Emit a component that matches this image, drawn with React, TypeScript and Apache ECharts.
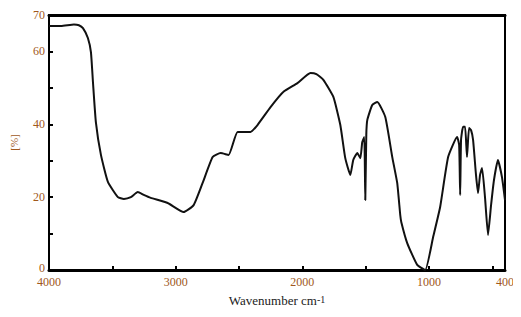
import React, { useEffect, useRef } from "react";
import * as echarts from "echarts";

const wavenumbers = [
  4000, 3905, 3803, 3764, 3732, 3693, 3669, 3653, 3630, 3590, 3535, 3456, 3409, 3354, 3299, 3252, 3197, 3063, 2937, 2858,
  2787, 2708, 2645, 2582, 2511, 2409, 2354, 2251, 2149, 2039, 1936, 1889, 1834, 1755, 1700, 1661, 1621, 1598, 1566, 1542,
  1527, 1511, 1503, 1495, 1487, 1448, 1408, 1345, 1290, 1251, 1227, 1219, 1172, 1093, 1030, 967, 912, 849, 778, 762,
  754, 747, 731, 715, 700, 684, 668, 652, 629, 613, 597, 581, 558, 534, 510, 487, 456, 424, 400,
];
const transmittance = [
  67.0, 67.0, 67.4, 67.2, 66.4, 63.7, 59.8, 51.6, 40.6, 31.6, 24.2, 20.0, 19.5, 20.0, 21.4, 20.6, 19.8, 18.4, 15.9, 17.8,
  23.9, 31.0, 32.1, 31.6, 37.9, 37.9, 39.8, 44.7, 48.9, 51.3, 54.1, 53.8, 52.2, 47.5, 39.8, 30.7, 26.1, 30.2, 32.1, 30.7,
  35.1, 36.5, 19.2, 37.1, 41.2, 45.3, 46.1, 42.0, 31.0, 23.9, 15.1, 13.2, 7.4, 1.4, 0.0, 9.1, 17.3, 31.0, 36.5, 34.3,
  20.6, 35.7, 39.3, 39.3, 31.0, 39.0, 38.4, 35.7, 26.1, 21.1, 26.1, 28.0, 20.0, 9.6, 17.8, 24.7, 30.2, 25.5, 19.2,
];
const xLabelValues = [4000, 3000, 2000, 1000, 400];
const xTickValues = [4000, 3500, 3000, 2500, 2000, 1500, 1000, 500, 400];
const yLabelValues = [0, 20, 40, 60, 70];
const yTickValues = [0, 10, 20, 30, 40, 50, 60, 70];

const labelColor = "#a0581c";
const font = "'Liberation Serif', 'DejaVu Serif', serif";

export default function App() {
  const ref = useRef<HTMLDivElement>(null);
  useEffect(() => {
    if (!ref.current) return;
    const chart = echarts.init(ref.current, null, { renderer: "svg" });
    chart.setOption({
      animation: false,
      backgroundColor: "#ffffff",
      grid: { left: 48, right: 16, top: 15, bottom: 47, show: true, borderColor: "#000", borderWidth: 2 },
      xAxis: [
        {
          type: "value",
          inverse: true,
          min: 400,
          max: 4000,
          interval: 100,
          name: "Wavenumber cm{sup|-1}",
          nameLocation: "middle",
          nameGap: 24,
          nameTextStyle: {
            color: "#222",
            fontFamily: font,
            fontSize: 13,
            verticalAlign: "top",
            rich: { sup: { fontSize: 10, verticalAlign: "top", fontFamily: font, color: "#222" } },
          },
          axisLine: { show: true, lineStyle: { color: "#000", width: 3 } },
          axisTick: { show: true, inside: true, length: 4, customValues: xTickValues, lineStyle: { color: "#000", width: 2 } },
          axisLabel: {
            customValues: xLabelValues,
            formatter: (v: number) => String(v),
            color: labelColor,
            fontFamily: font,
            fontSize: 12,
            lineHeight: 9,
            margin: 7,
          },
          splitLine: { show: false },
        },
        {
          type: "value",
          position: "top",
          inverse: true,
          min: 400,
          max: 4000,
          axisLine: { show: true, lineStyle: { color: "#000", width: 3 } },
          axisTick: { show: false },
          axisLabel: { show: false },
          splitLine: { show: false },
        },
      ],
      yAxis: {
        type: "value",
        min: 0,
        max: 70,
        interval: 10,
        name: "[%]",
        nameLocation: "middle",
        nameRotate: 90,
        nameGap: 30,
        nameTextStyle: { color: labelColor, fontFamily: font, fontSize: 11 },
        axisLine: { show: true, lineStyle: { color: "#000", width: 2 } },
        axisTick: { show: true, inside: true, length: 4, customValues: yTickValues, lineStyle: { color: "#000", width: 2 } },
        axisLabel: {
          customValues: yLabelValues,
          formatter: (v: number) => (v === 0 ? "{z|0}" : String(v)),
          color: labelColor,
          fontFamily: font,
          fontSize: 12,
          lineHeight: 9,
          margin: 4,
          rich: {
            z: { color: labelColor, fontFamily: font, fontSize: 12, lineHeight: 9, padding: [0, 0, 5, 0] },
          },
        },
        splitLine: { show: false },
      },
      series: [
        {
          type: "line",
          xAxisIndex: 0,
          data: wavenumbers.map((w, i) => [w, transmittance[i]]),
          showSymbol: false,
          smooth: 0.15,
          lineStyle: { color: "#111", width: 2 },
        },
      ],
    });
    return () => chart.dispose();
  }, []);
  return <div ref={ref} style={{ width: 521, height: 317, margin: -8 }} />;
}
